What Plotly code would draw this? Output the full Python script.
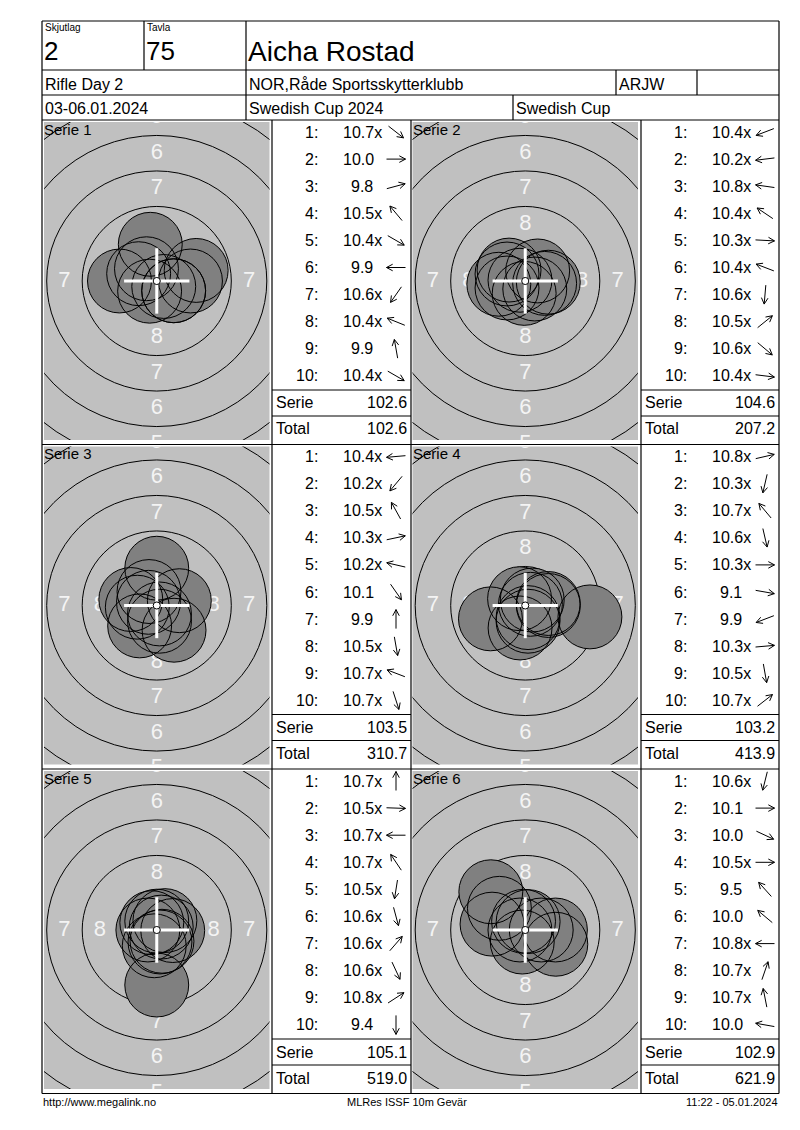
import math
import plotly.graph_objects as go

PAGE_W, PAGE_H = 800, 1130
OFF = 8  # browser body margin
W, H = PAGE_W - 2 * OFF, PAGE_H - 2 * OFF
FONT = "Arial, Liberation Sans, sans-serif"
NARROW = "Liberation Sans Narrow, Arial Narrow, Liberation Sans, sans-serif"

# ---------------- header / footer text ----------------
LBL_GROUP = "Skjutlag"
GROUP = "2"
LBL_TARGET = "Tavla"
TARGET = "75"
SHOOTER = "Aicha Rostad"
EVENT_DAY = "Rifle Day 2"
CLUB = "NOR,Råde Sportsskytterklubb"
CLASS = "ARJW"
DATES = "03-06.01.2024"
COMPETITION = "Swedish Cup 2024"
CUP = "Swedish Cup"
FOOTER_LEFT = "http://www.megalink.no"
FOOTER_MID = "MLRes ISSF 10m Gevär"
FOOTER_RIGHT = "11:22 - 05.01.2024"

# ---------------- data ----------------
SERIES_NAMES = ["Serie 1", "Serie 2", "Serie 3", "Serie 4", "Serie 5", "Serie 6"]
SCORES_1 = [10.7, 10.0, 9.8, 10.5, 10.4, 9.9, 10.6, 10.4, 9.9, 10.4]
SCORES_2 = [10.4, 10.2, 10.8, 10.4, 10.3, 10.4, 10.6, 10.5, 10.6, 10.4]
SCORES_3 = [10.4, 10.2, 10.5, 10.3, 10.2, 10.1, 9.9, 10.5, 10.7, 10.7]
SCORES_4 = [10.8, 10.3, 10.7, 10.6, 10.3, 9.1, 9.9, 10.3, 10.5, 10.7]
SCORES_5 = [10.7, 10.5, 10.7, 10.7, 10.5, 10.6, 10.6, 10.6, 10.8, 9.4]
SCORES_6 = [10.6, 10.1, 10.0, 10.5, 9.5, 10.0, 10.8, 10.7, 10.7, 10.0]
# direction of each shot from the target centre, degrees (0 = right, 90 = up)
DIRS_1 = [-38, 0, 15, 130, -30, 180, -125, 158, 100, -30]
DIRS_2 = [201, 187, 172, 146, -3, 159, -95, 39, -40, -7]
DIRS_3 = [185, 230, 119, 12, 167, -55, 90, -80, 159, -72]
DIRS_4 = [13, -103, 130, -77, 0, -10, 201, 5, -80, 38]
DIRS_5 = [90, -2, 180, 124, -99, -75, 49, -65, 33, -90]
DIRS_6 = [-104, 0, -25, 0, 132, 140, 180, 71, 101, 170]
SERIE_SUMS = ["102.6", "104.6", "103.5", "103.2", "105.1", "102.9"]
RUNNING_TOTALS = ["102.6", "207.2", "310.7", "413.9", "519.0", "621.9"]
RING_LABELS = ["8", "7", "6", "5"]

SCORES = [SCORES_1, SCORES_2, SCORES_3, SCORES_4, SCORES_5, SCORES_6]
DIRS = [DIRS_1, DIRS_2, DIRS_3, DIRS_4, DIRS_5, DIRS_6]

# ---------------- target geometry (ISSF 10m air rifle, mm) ----------------
RING_STEP = 2.5
TEN_R = 0.25
PELLET_R = 2.25
SCALE = 14.2  # px per mm on the page


def ring_radius(k):
    return TEN_R + (10 - k) * RING_STEP


def shot_distance(s):
    return max((10.9 - s) * RING_STEP + 0.125, 0.0)


# ---------------- page layout (page px) ----------------
ROW_TOPS = [120.0, 444.5, 769.0]
PAGE_BOTTOM = 1093.5
LEFT, RIGHT = 42.0, 779.0
# (gray left, gray right, table left, table right)
COLS = [(44.0, 269.5, 272.0, 411.0), (412.5, 638.0, 641.0, 779.0)]


def px(x):
    return (x - OFF) / W


def py(y):
    return 1 - (y - OFF) / H


fig = go.Figure()
shapes = []
annotations = []
layout_axes = {}


def line(x0, y0, x1, y1, w=1.2):
    shapes.append(dict(type="line", xref="paper", yref="paper", x0=px(x0), y0=py(y0),
                       x1=px(x1), y1=py(y1), line=dict(color="black", width=w), layer="above"))


def text(x, y, t, size=16, anchor="left", family=FONT, color="black"):
    annotations.append(dict(x=px(x), y=py(y), xref="paper", yref="paper", text=t,
                            showarrow=False, xanchor=anchor, yanchor="middle",
                            font=dict(size=size, family=family, color=color), borderpad=0))


# header grid
for yy in [21, 70, 95, ROW_TOPS[0]]:
    line(LEFT, yy, RIGHT, yy)
line(LEFT, 21, LEFT, PAGE_BOTTOM)
line(RIGHT, 21, RIGHT, PAGE_BOTTOM)
line(144, 21, 144, 70)
line(246, 21, 246, ROW_TOPS[0])
line(616, 70, 616, 95)
line(697, 70, 697, 95)
line(513, 95, 513, ROW_TOPS[0])

text(44, 28, LBL_GROUP, size=10)
text(146, 28, LBL_TARGET, size=10)
text(43, 51, GROUP, size=26)
text(145, 51, TARGET, size=26)
text(247, 51, SHOOTER, size=28)
text(44, 85, EVENT_DAY)
text(248, 85, CLUB)
text(618, 85, CLASS)
text(44, 108.5, DATES)
text(248, 108.5, COMPETITION)
text(515, 108.5, CUP)

text(42, 1102, FOOTER_LEFT, size=11, family=NARROW)
text(407, 1102, FOOTER_MID, size=11, family=NARROW, anchor="center")
text(779, 1102, FOOTER_RIGHT, size=11, family=NARROW, anchor="right")

bottoms = ROW_TOPS[1:] + [PAGE_BOTTOM]
for r, (top, bot) in enumerate(zip(ROW_TOPS, bottoms)):
    line(LEFT, bot, RIGHT, bot)
    line(272, top, 272, bot)
    line(411, top, 411, bot)
    line(641, top, 641, bot)
    for (_, _, tl, tr) in COLS:
        line(tl, top + 270, tr, top + 270)
        line(tl, top + 296, tr, top + 296)

# ---------------- panels ----------------
for i in range(6):
    r, c = divmod(i, 2)
    top = ROW_TOPS[r]
    gl, gr, tl, tr = COLS[c]
    gt, gb = top + 2, top + 320
    cx, cy = (gl + gr) / 2, top + 161
    n = "" if i == 0 else str(i + 1)
    xa, ya = "x" + n, "y" + n
    layout_axes["xaxis" + n] = dict(domain=[px(gl), px(gr)], range=[-(cx - gl) / SCALE, (gr - cx) / SCALE],
                                    visible=False, fixedrange=True, anchor=ya)
    layout_axes["yaxis" + n] = dict(domain=[py(gb), py(gt)], range=[-(gb - cy) / SCALE, (cy - gt) / SCALE],
                                    visible=False, fixedrange=True, anchor=xa)

    # rings 9..4
    for k in [9, 8, 7, 6, 5, 4]:
        rr = ring_radius(k)
        shapes.append(dict(type="circle", xref=xa, yref=ya, x0=-rr, x1=rr, y0=-rr, y1=rr,
                           line=dict(color="black", width=1), layer="below"))

    # ring numbers (in the middle of each scoring zone)
    lx, ly, lt = [], [], []
    for lab in RING_LABELS:
        k = int(lab)
        m = (ring_radius(k) + ring_radius(k + 1)) / 2
        for dx, dy in [(0, 1), (0, -1), (-1, 0), (1, 0)]:
            lx.append(dx * m)
            ly.append(dy * m)
            lt.append(lab)
    fig.add_trace(go.Scatter(x=lx, y=ly, text=lt, mode="text", xaxis=xa, yaxis=ya,
                             textfont=dict(color="#f4f4f4", size=22, family=FONT),
                             hoverinfo="skip", showlegend=False, cliponaxis=True))

    # shots
    sx, sy = [], []
    for s, d in zip(SCORES[i], DIRS[i]):
        dist = shot_distance(s)
        sx.append(dist * math.cos(math.radians(d)))
        sy.append(dist * math.sin(math.radians(d)))
    for x0, y0 in zip(sx, sy):
        shapes.append(dict(type="circle", xref=xa, yref=ya, x0=x0 - PELLET_R, x1=x0 + PELLET_R,
                           y0=y0 - PELLET_R, y1=y0 + PELLET_R, fillcolor="#808080",
                           line=dict(width=0), layer="above"))
    for x0, y0 in zip(sx, sy):
        shapes.append(dict(type="circle", xref=xa, yref=ya, x0=x0 - PELLET_R, x1=x0 + PELLET_R,
                           y0=y0 - PELLET_R, y1=y0 + PELLET_R,
                           line=dict(color="black", width=1), layer="above"))
    # white cross and 10-dot
    arm = 2.3
    shapes.append(dict(type="line", xref=xa, yref=ya, x0=-arm, x1=arm, y0=0, y1=0,
                       line=dict(color="white", width=3), layer="above"))
    shapes.append(dict(type="line", xref=xa, yref=ya, x0=0, x1=0, y0=-arm, y1=arm,
                       line=dict(color="white", width=3), layer="above"))
    tr10 = TEN_R
    shapes.append(dict(type="circle", xref=xa, yref=ya, x0=-tr10, x1=tr10, y0=-tr10, y1=tr10,
                       fillcolor="white", line=dict(color="black", width=1), layer="above"))

    text(gl - 1, top + 9, SERIES_NAMES[i], size=15)

    # shot list
    for j, (s, d) in enumerate(zip(SCORES[i], DIRS[i])):
        yy = top + 12 + 27.1 * j
        text(tl + 47, yy, f"{j + 1}:", anchor="right")
        lab = f"{s:.1f}" + ("x" if s >= 10.2 else "")
        if s < 10:
            lab = "\u2002" + lab
        text(tl + 70, yy, lab)
        # arrow glyph pointing in the shot direction
        acx, acy = tl + 124, yy
        ux, uy = math.cos(math.radians(d)), -math.sin(math.radians(d))
        L = 9.5
        x1, y1 = acx + ux * L, acy + uy * L
        x0, y0 = acx - ux * L, acy - uy * L
        hl, ha = 7.0, math.radians(28)
        hx1 = x1 - hl * (ux * math.cos(ha) - uy * math.sin(ha))
        hy1 = y1 - hl * (ux * math.sin(ha) + uy * math.cos(ha))
        hx2 = x1 - hl * (ux * math.cos(-ha) - uy * math.sin(-ha))
        hy2 = y1 - hl * (ux * math.sin(-ha) + uy * math.cos(-ha))
        path = (f"M {px(x0)},{py(y0)} L {px(x1)},{py(y1)} "
                f"M {px(hx1)},{py(hy1)} L {px(x1)},{py(y1)} L {px(hx2)},{py(hy2)}")
        shapes.append(dict(type="path", xref="paper", yref="paper", path=path,
                           line=dict(color="black", width=1), layer="above"))

    text(tl + 3, top + 283, "Serie")
    text(tr - 3, top + 283, SERIE_SUMS[i], anchor="right")
    text(tl + 3, top + 309, "Total")
    text(tr - 3, top + 309, RUNNING_TOTALS[i], anchor="right")

fig.update_layout(width=W, height=H, margin=dict(l=0, r=0, t=0, b=0),
                  paper_bgcolor="white", plot_bgcolor="#c0c0c0", showlegend=False,
                  shapes=shapes, annotations=annotations, **layout_axes)
fig.write_html("out.html")
